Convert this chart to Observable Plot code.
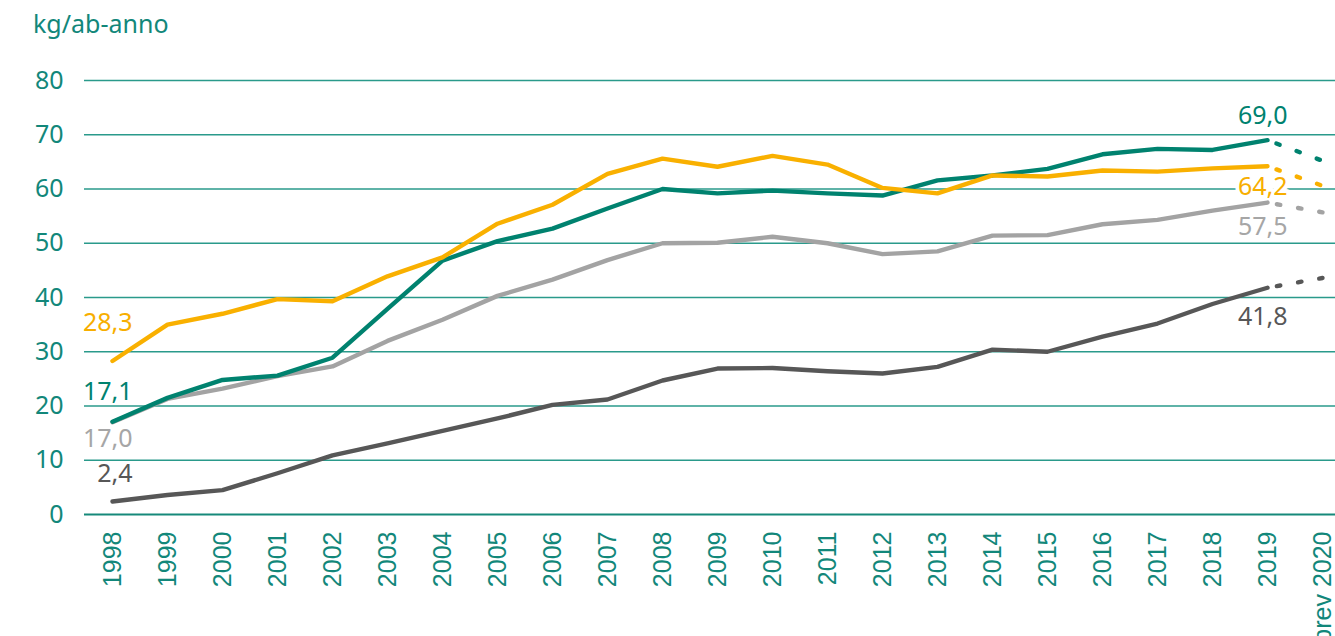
<!DOCTYPE html>
<html>
<head>
<meta charset="utf-8">
<script src="https://cdn.jsdelivr.net/npm/d3@7"></script>
<script src="https://cdn.jsdelivr.net/npm/@observablehq/plot@0.6"></script>
<style>
  html, body { margin: 0; padding: 0; background: #ffffff; }
  #title {
    height: 60px; box-sizing: border-box; padding: 6px 0 0 33px;
    font-family: "Noto Sans", sans-serif; font-size: 25px; line-height: 34px;
    color: #12877a;
  }
  #chart svg { display: block; }
</style>
</head>
<body>
<div id="title">kg/ab-anno</div>
<div id="chart"></div>
<script>
// ---- data ----
const years = [1998, 1999, 2000, 2001, 2002, 2003, 2004, 2005, 2006, 2007, 2008,
               2009, 2010, 2011, 2012, 2013, 2014, 2015, 2016, 2017, 2018, 2019];
const forecastYear = 2020;
const seriesNames = ["serie verde", "serie gialla", "serie grigio chiaro", "serie grigio scuro"];
const serieVerde = [17.1, 21.5, 24.8, 25.6, 28.9, 37.9, 46.8, 50.4, 52.7, 56.4, 60.0,
                    59.2, 59.7, 59.2, 58.8, 61.6, 62.5, 63.7, 66.4, 67.4, 67.2, 69.0];
const serieGialla = [28.3, 35.0, 37.0, 39.7, 39.3, 43.9, 47.4, 53.6, 57.1, 62.8, 65.6,
                     64.1, 66.1, 64.5, 60.2, 59.2, 62.5, 62.3, 63.4, 63.2, 63.8, 64.2];
const serieGrigioChiaro = [17.0, 21.3, 23.2, 25.5, 27.3, 32.0, 35.9, 40.3, 43.3, 46.9, 50.0,
                           50.1, 51.2, 50.0, 48.0, 48.5, 51.4, 51.5, 53.5, 54.3, 56.0, 57.5];
const serieGrigioScuro = [2.4, 3.6, 4.5, 7.6, 10.9, 13.1, 15.4, 17.7, 20.2, 21.2, 24.7,
                          26.9, 27.0, 26.4, 26.0, 27.2, 30.4, 30.0, 32.8, 35.2, 38.8, 41.8];
const previsione2020 = [65.2, 60.6, 55.7, 43.6];
const yTicks = [0, 10, 20, 30, 40, 50, 60, 70, 80];
const xTicks = [...years, forecastYear];
const xTickLabels = [...years.map(String), "prev 2020"];

// ---- tidy tables built from the arrays ----
const allValues = [serieVerde, serieGialla, serieGrigioChiaro, serieGrigioScuro];
const rows = seriesNames.flatMap((s, i) => years.map((y, j) => ({serie: s, anno: y, valore: allValues[i][j]})));
const forecastRows = seriesNames.flatMap((s, i) => [
  {serie: s, anno: years[years.length - 1], valore: allValues[i][allValues[i].length - 1]},
  {serie: s, anno: forecastYear, valore: previsione2020[i]}
]);
const firstRows = seriesNames.map((s, i) => ({serie: s, anno: years[0], valore: allValues[i][0]}));
const lastRows = seriesNames.map((s, i) => ({serie: s, anno: years[years.length - 1], valore: allValues[i][allValues[i].length - 1]}));

const fmt = v => v.toFixed(1).replace(".", ",");
const colors = ["#00826f", "#f9b000", "#a3a3a3", "#575757"];
const textColors = ["#00826f", "#f7ae00", "#a6a6a6", "#575757"];
const textColorOf = s => textColors[seriesNames.indexOf(s)];
const firstDy = [-30, -37.5, 17, -27];
const lastDy = [-24, 20.5, 24, 29];
const teal = "#12877a";
const labelFont = "Noto Sans";

// drawing order: dark, light gray, teal, yellow
const order = [3, 2, 0, 1];
const orderedRows = order.flatMap(i => rows.filter(r => r.serie === seriesNames[i]));
const orderedForecast = order.flatMap(i => forecastRows.filter(r => r.serie === seriesNames[i]));

const chart = Plot.plot({
  width: 1335,
  height: 576,
  marginTop: 20,
  marginBottom: 122,
  marginLeft: 112,
  marginRight: 13,
  x: {domain: [years[0], forecastYear], axis: null},
  y: {domain: [0, 80], axis: null},
  color: {domain: seriesNames, range: colors},
  style: {fontFamily: labelFont, background: "#ffffff"},
  marks: [
    Plot.ruleY(yTicks.filter(d => d !== 0), {y: d => d, stroke: "#2a9a8b", strokeWidth: 1.3, insetLeft: -28, insetRight: -13}),
    Plot.ruleY([0], {y: d => d, stroke: "#16897a", strokeWidth: 2, insetLeft: -28, insetRight: -13}),
    Plot.axisY(yTicks, {label: null, tickSize: 0, tickPadding: 49, fontSize: 25, fontFamily: labelFont, color: teal, tickFormat: d => String(d)}),
    Plot.axisX(xTicks, {
      label: null, tickSize: 0, tickPadding: 17, tickRotate: -90, fontSize: 25,
      fontFamily: "Liberation Sans", color: teal,
      tickFormat: d => xTickLabels[xTicks.indexOf(d)]
    }),
    ...firstRows.map((r, i) => Plot.text([r], {
      x: "anno", y: "valore", text: d => fmt(d.valore), textAnchor: "end",
      dx: 20, dy: firstDy[i], fontSize: 25, fontFamily: labelFont,
      fill: textColorOf(r.serie)
    })),
    // end labels (white halo masks the gridline behind "64,2")
    ...lastRows.map((r, i) => Plot.text([r], {
      x: "anno", y: "valore", text: d => fmt(d.valore), textAnchor: "end",
      dx: 20, dy: lastDy[i], fontSize: 25, fontFamily: labelFont,
      fill: textColorOf(r.serie), stroke: "white", strokeWidth: 8
    })),
    Plot.line(orderedForecast, {
      x: "anno", y: "valore", z: "serie", stroke: "serie", strokeWidth: 4.4,
      strokeDasharray: "3.5,18", strokeDashoffset: 12, strokeLinecap: "round"
    }),
    Plot.line(orderedRows, {
      x: "anno", y: "valore", z: "serie", stroke: "serie", strokeWidth: 4.4,
      strokeLinecap: "round", strokeLinejoin: "round"
    })
  ]
});
document.getElementById("chart").appendChild(chart);
</script>
</body>
</html>
